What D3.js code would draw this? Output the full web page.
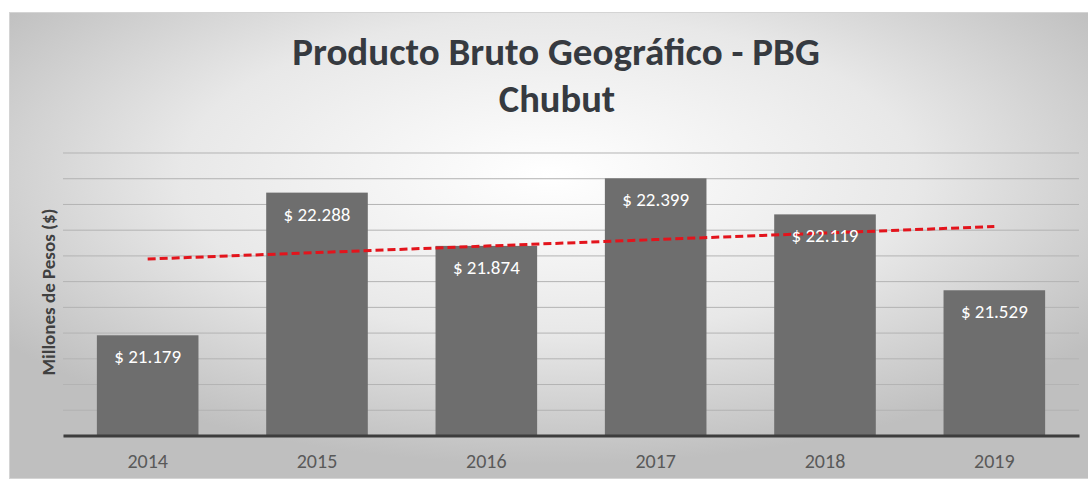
<!DOCTYPE html>
<html lang="es">
    <head>
        <meta charset="utf-8">
        <title>PBG Chubut</title>
        <script src="https://cdnjs.cloudflare.com/ajax/libs/d3/7.8.5/d3.min.js"></script>
        <style>
            body { margin: 0; background: #fff; }
            svg { display: block; }
        </style>
    </head>
    <body>
        <script>
            // datos (millones de pesos)
            var years = ["2014", "2015", "2016", "2017", "2018", "2019"];
            var pbg = [21179, 22288, 21874, 22399, 22119, 21529];
            var yDomain = [20400, 22600];

            var w = 1088, h = 479;
            var font = "Calibri, Carlito, 'Open Sans', sans-serif";

            var svg = d3.select("body").append("svg")
                .attr("width", w)
                .attr("height", h);

            // fondo con degradado
            var defs = svg.append("defs");
            var grad = defs.append("radialGradient")
                .attr("id", "bg")
                .attr("cx", "50%").attr("cy", "35%").attr("r", "62%");
            grad.append("stop").attr("offset", "0%").attr("stop-color", "#ffffff");
            grad.append("stop").attr("offset", "55%").attr("stop-color", "#e8e8e8");
            grad.append("stop").attr("offset", "100%").attr("stop-color", "#bfbfbf");

            svg.append("rect")
                .attr("x", 9.5).attr("y", 12.5)
                .attr("width", w - 9).attr("height", 466)
                .attr("fill", "url(#bg)")
                .attr("stroke", "#d4d4d4");

            var x = d3.scaleBand()
                .domain(years)
                .range([63, 1079])
                .paddingInner(0.4)
                .paddingOuter(0.2);

            var y = d3.scaleLinear()
                .domain(yDomain)
                .range([435.5, 152.5]);

            // lineas de grilla
            svg.append("g")
                .attr("transform", "translate(63,0)")
                .call(d3.axisLeft(y).ticks(11).tickSize(-(1079 - 63)).tickFormat(""))
                .call(function(g) {
                    g.select(".domain").remove();
                    g.selectAll(".tick line").attr("stroke", "#b3b3b3").attr("stroke-width", 1);
                });

            // barras
            svg.selectAll("rect.bar")
                .data(pbg)
                .enter()
                .append("rect")
                .attr("class", "bar")
                .attr("x", function(d, i) { return x(years[i]); })
                .attr("y", function(d) { return y(d); })
                .attr("width", x.bandwidth())
                .attr("height", function(d) { return y(yDomain[0]) - y(d); })
                .attr("fill", "#6e6e6e");

            // eje x
            svg.append("g")
                .attr("transform", "translate(0," + y(yDomain[0]) + ")")
                .call(d3.axisBottom(x).tickSize(0).tickPadding(18))
                .call(function(g) {
                    g.select(".domain").attr("stroke", "#3d3d3d").attr("stroke-width", 3);
                    g.selectAll("text")
                        .attr("font-family", font)
                        .attr("font-size", "20px")
                        .attr("fill", "#595959");
                });

            // linea de tendencia (regresion lineal)
            var idx = d3.range(pbg.length);
            var mx = d3.mean(idx), my = d3.mean(pbg);
            var slope = d3.sum(idx, function(i) { return (i - mx) * (pbg[i] - my); }) /
                        d3.sum(idx, function(i) { return (i - mx) * (i - mx); });
            var trend = function(i) { return my + slope * (i - mx); };

            svg.append("path")
                .datum(idx)
                .attr("fill", "none")
                .attr("stroke", "#e3141c")
                .attr("stroke-width", 3)
                .attr("stroke-dasharray", "8,4")
                .attr("d", d3.line()
                    .x(function(i) { return x(years[i]) + x.bandwidth() / 2; })
                    .y(function(i) { return y(trend(i)); }));

            // etiquetas
            var fmt = d3.formatLocale({ decimal: ",", thousands: ".", grouping: [3], currency: ["$ ", ""] }).format("$,");

            svg.selectAll("text.lbl")
                .data(pbg)
                .enter()
                .append("text")
                .attr("class", "lbl")
                .attr("x", function(d, i) { return x(years[i]) + x.bandwidth() / 2; })
                .attr("y", function(d) { return y(d) + 28; })
                .attr("text-anchor", "middle")
                .attr("font-family", font)
                .attr("font-size", "19px")
                .attr("fill", "#ffffff")
                .text(function(d) { return fmt(d); });

            // titulo
            var title = svg.append("text")
                .attr("text-anchor", "middle")
                .attr("font-family", font)
                .attr("font-weight", "bold")
                .attr("fill", "#363a40");
            title.append("tspan").attr("x", 556).attr("y", 65).attr("font-size", "39px")
                .text("Producto Bruto Geográfico - PBG");
            title.append("tspan").attr("x", 557).attr("y", 112).attr("font-size", "38.5px")
                .text("Chubut");

            // titulo eje y
            svg.append("text")
                .attr("transform", "translate(55,292) rotate(-90)")
                .attr("text-anchor", "middle")
                .attr("font-family", font)
                .attr("font-weight", "bold")
                .attr("font-size", "19px")
                .attr("fill", "#404040")
                .text("Millones de Pesos ($)");
        </script>
    </body>
</html>
